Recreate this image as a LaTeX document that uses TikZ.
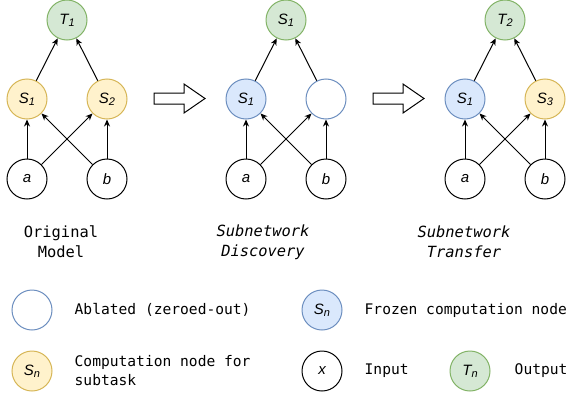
\documentclass[tikz,border=0pt]{standalone}
\usepackage{fontspec}
\setmainfont{Liberation Sans}
\setmonofont{DejaVu Sans Mono}
\usetikzlibrary{arrows.meta,positioning}
\definecolor{yellowfill}{HTML}{FFF2CC}
\definecolor{yellowline}{HTML}{D6B656}
\definecolor{greenfill}{HTML}{D5E8D4}
\definecolor{greenline}{HTML}{82B366}
\definecolor{bluefill}{HTML}{DAE8FC}
\definecolor{blueline}{HTML}{6C8EBF}
\newcommand{\unitname}[2]{\textit{#1}\raisebox{-0.25ex}{\fontsize{11}{11}\selectfont\textit{#2}}}
\begin{document}
\begin{tikzpicture}[x=1pt,y=-1pt,
  unit/.style = {circle, draw, line width=1pt, minimum size=40pt,
    inner sep=0pt, font=\fontsize{15}{15}\selectfont\itshape},
  subtask/.style = {unit, draw=yellowline, fill=yellowfill},
  frozen/.style = {unit, draw=blueline, fill=bluefill},
  ablated/.style = {unit, draw=blueline, fill=white},
  output/.style = {unit, draw=greenline, fill=greenfill},
  input/.style = {unit, draw=black, fill=white},
  link/.style = {-{Stealth[length=7pt,width=6pt]}, line width=1pt},
  stage/.style = {line width=1pt, fill=white},
  caption/.style = {font=\fontsize{15.4}{20}\selectfont\ttfamily, align=center},
  legend/.style = {font=\fontsize{14.6}{19}\selectfont\ttfamily,
    align=left, anchor=west, inner sep=0pt}
  ]
  \useasboundingbox (0,0) rectangle (569,396);
  % original model
  \node[output] (T1) at (67,20) {\unitname{T}{1}};
  \node[subtask] (S1) at (27,99) {\unitname{S}{1}};
  \node[subtask] (S2) at (107,99) {\unitname{S}{2}};
  \node[input] (a1) at (27,179) {a};
  \node[input] (b1) at (107,179) {b};
  \node[caption] (cap1) at (61,242) {Original\\Model};
  % subnetwork discovery
  \node[output] (T1d) at (286,20) {\unitname{S}{1}};
  \node[frozen] (S1d) at (246,99) {\unitname{S}{1}};
  \node[ablated] (S2d) at (326,99) {};
  \node[input] (a2) at (246,179) {a};
  \node[input] (b2) at (326,179) {b};
  \node[caption] (cap2) at (263,242) {\itshape Subnetwork\\\itshape Discovery};
  % subnetwork transfer
  \node[output] (T2) at (505,20) {\unitname{T}{2}};
  \node[frozen] (S1t) at (465,99) {\unitname{S}{1}};
  \node[subtask] (S3) at (545,99) {\unitname{S}{3}};
  \node[input] (a3) at (465,179) {a};
  \node[input] (b3) at (545,179) {b};
  \node[caption] (cap3) at (464,242) {\itshape Subnetwork\\\itshape Transfer};
  % connections
  \foreach \lo/\hi/\a/\b/\t in {S1/S2/a1/b1/T1, S1d/S2d/a2/b2/T1d, S1t/S3/a3/b3/T2} {
    \draw[link] (\a) -- (\lo);
    \draw[link] (\a) -- (\hi);
    \draw[link] (\b) -- (\lo);
    \draw[link] (\b) -- (\hi);
    \draw[link] (\lo) -- (\t);
    \draw[link] (\hi) -- (\t);
  }
  % stage arrows
  \foreach \x in {154,373}
    \draw[stage] (\x,93) -- ++(30,0) -- ++(0,-9) -- ++(21,14.5)
      -- ++(-21,14.5) -- ++(0,-9) -- ++(-30,0) -- cycle;
  % legend
  \node[ablated] (kabl) at (32,310) {};
  \node[legend, right=22pt of kabl] (tabl) {Ablated (zeroed-out)};
  \node[subtask] (ksub) at (32,371) {\unitname{S}{n}};
  \node[legend, right=22pt of ksub] (tsub) {Computation node for\\subtask};
  \node[frozen] (kfro) at (322,310) {\unitname{S}{n}};
  \node[legend, right=22pt of kfro] (tfro) {Frozen computation node};
  \node[input] (kin) at (322,371) {x};
  \node[legend, right=22pt of kin] (tin) {Input};
  \node[output] (kout) at (470,371) {\unitname{T}{n}};
  \node[legend, right=24pt of kout] (tout) {Output};
\end{tikzpicture}
\end{document}
